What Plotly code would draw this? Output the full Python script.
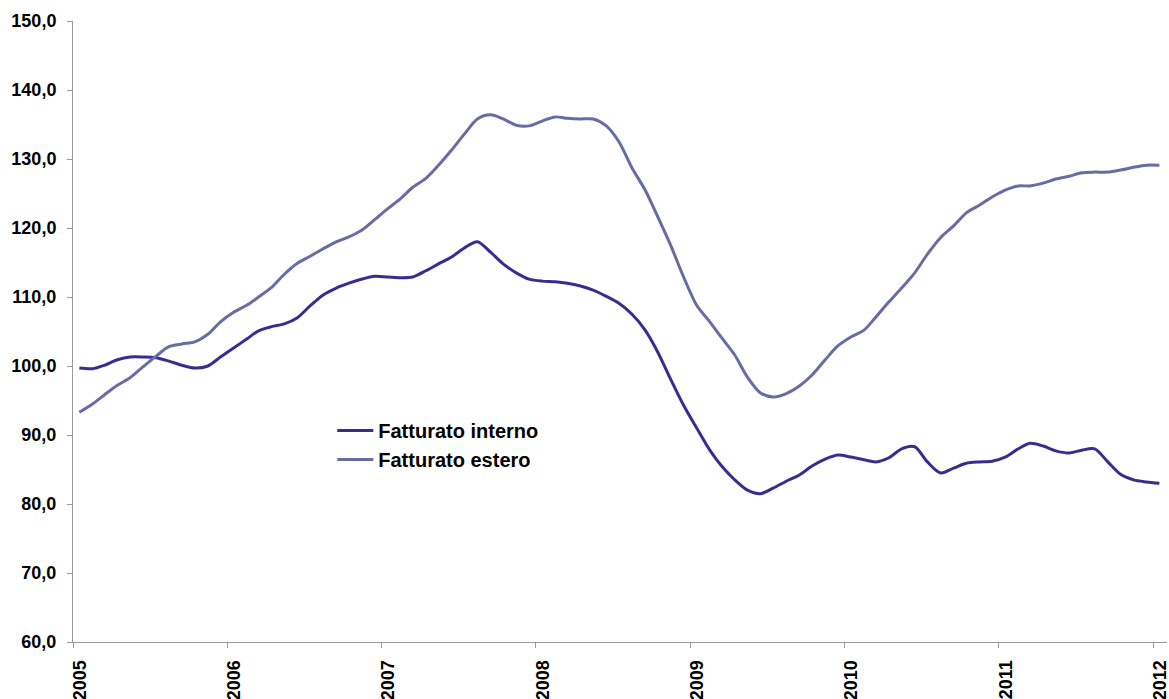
import pandas as pd
import plotly.graph_objects as go

dates = pd.date_range("2005-01-01", periods=85, freq="MS") + pd.Timedelta(days=15)

fatturato_interno = [
    99.7, 99.6, 100.1, 100.9, 101.3, 101.3, 101.2, 100.7, 100.1, 99.7, 100.0, 101.3,
    102.6, 103.9, 105.1, 105.7, 106.1, 107.0, 108.7, 110.3, 111.3, 112.0, 112.6, 113.0,
    112.9, 112.8, 112.9, 113.8, 114.8, 115.8, 117.1, 118.0, 116.5, 114.8, 113.5, 112.6,
    112.3, 112.2, 112.0, 111.6, 111.0, 110.1, 109.1, 107.5, 105.2, 102.0, 98.0, 94.3,
    91.0, 87.8, 85.5, 83.5, 82.0, 81.5, 82.3, 83.3, 84.2, 85.5, 86.5, 87.1,
    86.8, 86.4, 86.1, 86.7, 88.0, 88.3, 86.1, 84.5, 85.2, 85.9, 86.1, 86.2,
    86.8, 88.0, 88.8, 88.4, 87.7, 87.4, 87.8, 88.0, 86.1, 84.3, 83.5, 83.2,
    83.0,
]

fatturato_estero = [
    93.3, 94.5, 95.8, 97.2, 98.3, 99.9, 101.4, 102.8, 103.2, 103.5, 104.6, 106.4,
    107.8, 108.8, 110.0, 111.4, 113.3, 114.9, 115.9, 117.0, 118.0, 118.7, 119.7, 121.2,
    122.8, 124.3, 125.9, 127.2, 129.1, 131.3, 133.6, 135.8, 136.4, 135.8, 134.9, 134.8,
    135.5, 136.1, 135.9, 135.8, 135.8, 134.8, 132.5, 128.7, 125.5, 121.6, 117.4, 112.9,
    108.8, 106.4, 104.1, 101.6, 98.4, 96.1, 95.5, 96.0, 97.1, 98.7, 100.9, 102.9,
    104.2, 105.2, 107.1, 109.3, 111.3, 113.5, 116.2, 118.6, 120.3, 122.2, 123.3, 124.5,
    125.5, 126.1, 126.1, 126.5, 127.1, 127.5, 128.0, 128.1, 128.1, 128.4, 128.8, 129.1,
    129.1,
]

year_ticks = [f"{y}-01-01" for y in range(2005, 2013)]
year_labels = [str(y) for y in range(2005, 2013)]
y_ticks = list(range(60, 151, 10))

series_names = ["Fatturato interno", "Fatturato estero"]
series_colors = ["#372D91", "#666CA4"]

fig = go.Figure()
for name, vals, col in zip(series_names, [fatturato_interno, fatturato_estero], series_colors):
    fig.add_trace(go.Scatter(
        x=dates, y=vals, name=name, mode="lines",
        line=dict(color=col, width=3, shape="spline", smoothing=0.8),
    ))

font_family = "Liberation Sans, Arial, sans-serif"
fig.update_layout(
    width=1169, height=699,
    margin=dict(l=73, r=2, t=21, b=57, autoexpand=False),
    paper_bgcolor="white", plot_bgcolor="white",
    separators=",.",
    font=dict(family=font_family, size=19, color="black"),
    showlegend=True,
    legend=dict(
        x=0.237, y=0.372, xanchor="left", yanchor="top",
        bgcolor="rgba(0,0,0,0)",
        font=dict(family=font_family, size=20, color="black", weight="bold"),
        itemwidth=36, tracegroupgap=0,
    ),
)
fig.update_xaxes(
    type="date", automargin=False,
    range=["2005-01-01", "2012-02-03"],
    tickvals=year_ticks, ticktext=year_labels,
    tickangle=-90, ticklabelshift=7, ticklabelstandoff=5,
    ticklabeloverflow="allow",
    ticks="outside", ticklen=5, tickcolor="#999999",
    showline=True, linecolor="#999999", linewidth=1,
    showgrid=False, zeroline=False,
    tickfont=dict(family=font_family, size=18, color="black", weight="bold"),
)
fig.update_yaxes(
    range=[60, 150], automargin=False,
    tickvals=y_ticks, tickformat=".1f", ticklabelstandoff=7,
    ticklabeloverflow="allow",
    ticks="outside", ticklen=5, tickcolor="#999999",
    showline=True, linecolor="#999999", linewidth=1,
    showgrid=False, zeroline=False,
    tickfont=dict(family=font_family, size=18, color="black", weight="bold"),
)

fig.write_html(
    "out.html",
    config={"displayModeBar": False},
    post_script="document.body.style.margin='0';document.body.style.overflow='hidden';",
)
